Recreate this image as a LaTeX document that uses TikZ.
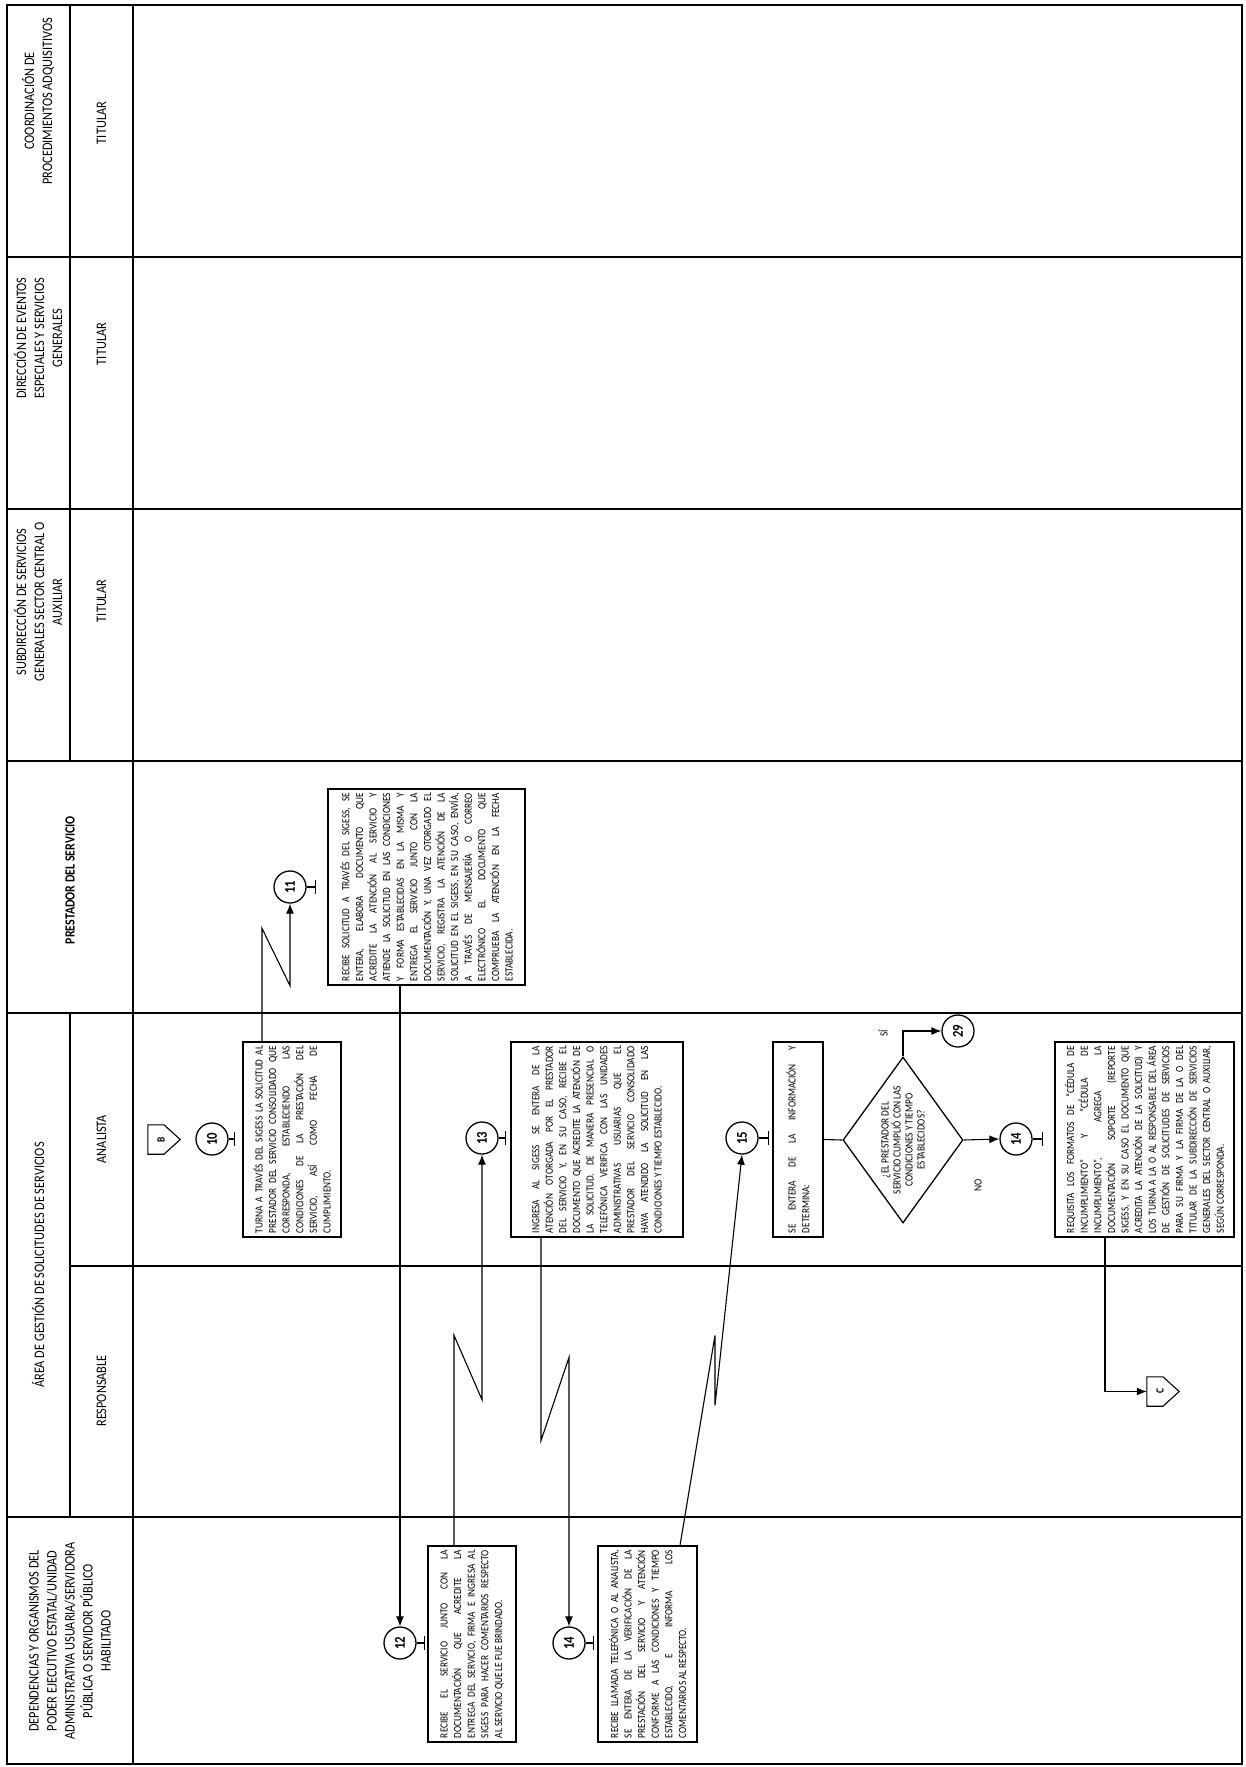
\documentclass[tikz,border=0pt]{standalone}
\usepackage{fontspec}
\setmainfont{Carlito}[FakeStretch=0.85]
\usetikzlibrary{shapes.geometric,calc,arrows.meta}
\begin{document}
\begin{tikzpicture}[x=1pt,y=-1pt,
  lane/.style={line width=1.8pt},
  conn/.style={line width=1.1pt},
  arr/.style={line width=1.1pt,-{Latex[length=10pt,width=8pt]}},
  box/.style={draw,line width=1.3pt,rotate=90,inner sep=0pt,align=justify,fill=white,
              font=\fontsize{10.9}{13.6}\selectfont},
  num/.style={circle,draw,line width=1.3pt,minimum size=32pt,inner sep=0pt,fill=white,
              font=\fontsize{15}{15}\bfseries\selectfont},
  hdr/.style={rotate=90,align=center,font=\fontsize{14.5}{18}\selectfont},
  lbl/.style={rotate=90,font=\fontsize{11}{11}\selectfont},
  offp/.style={inner sep=0pt,minimum width=32pt,minimum height=29pt}]
\useasboundingbox (0,0) rectangle (1245,1767);
% ---------------- lanes ----------------
\draw[lane] (7,5) rectangle (1242,1764);
\foreach \yy in {257,509,761,1013,1517} \draw[lane] (7,\yy) -- (1242,\yy);
\draw[lane] (70,1266) -- (1242,1266);
\draw[lane] (133,5) -- (133,1764);
\draw[lane] (70,5) -- (70,761);
\draw[lane] (70,1013) -- (70,1517);
% ---------------- headers ----------------
\node[hdr] (hCoord) at (38,101) {COORDINACIÓN DE\\PROCEDIMIENTOS ADQUISITIVOS};
\node[hdr] (tCoord) at (101.5,123) {TITULAR};
\node[hdr] (hDir) at (38,338) {DIRECCIÓN DE EVENTOS\\ESPECIALES Y SERVICIOS\\GENERALES};
\node[hdr] (tDir) at (101.5,344) {TITULAR};
\node[hdr] (hSub) at (38,602) {SUBDIRECCIÓN DE SERVICIOS\\GENERALES SECTOR CENTRAL O\\AUXILIAR};
\node[hdr] (tSub) at (101.5,601) {TITULAR};
\node[hdr,font=\fontsize{14}{18}\bfseries\selectfont] (hPre) at (70,880) {PRESTADOR DEL SERVICIO};
\node[hdr] (hArea) at (38,1265) {ÁREA DE GESTIÓN DE SOLICITUDES DE SERVICIOS};
\node[hdr] (tAna) at (101.5,1139) {ANALISTA};
\node[hdr] (tRes) at (101.5,1391) {RESPONSABLE};
\node[hdr] (hDep) at (70,1641) {DEPENDENCIAS Y ORGANISMOS DEL\\PODER EJECUTIVO ESTATAL/UNIDAD\\ADMINISTRATIVA USUARIA/SERVIDORA\\PÚBLICA O SERVIDOR PÚBLICO\\HABILITADO};
% ---------------- off-page B ----------------
\node[offp] (B) at (164,1139.5) {};
\draw[conn] (B.north west) -- (B.north) -- (B.east) -- (B.south) -- (B.south west) -- cycle;
\node[font=\fontsize{11}{11}\bfseries\selectfont] (Bl) at ([xshift=-3pt]B.center) {\rotatebox{90}{B}};
% ---------------- circles ----------------
\node[num] (c10) at (212,1139) {\rotatebox{90}{10}};
\node[num] (c11) at (290,887) {\rotatebox{90}{11}};
\node[num] (c12) at (400,1643) {\rotatebox{90}{12}};
\node[num] (c13) at (482,1138) {\rotatebox{90}{13}};
\node[num] (c14d) at (569,1643) {\rotatebox{90}{14}};
\node[num] (c15) at (742,1138) {\rotatebox{90}{15}};
\node[num] (c29) at (958,1031) {\rotatebox{90}{29}};
\node[num] (c14b) at (1016,1139) {\rotatebox{90}{14}};
% ticks
\draw[conn] (c10.east) -- ++(6,0) +(0,-7) -- +(0,7);
\draw[conn] (c11.east) -- ++(9,0) +(0,-7) -- +(0,7);
\draw[conn] (c12.east) -- ++(8,0) +(0,-7) -- +(0,7);
\draw[conn] (c13.east) -- ++(7,0) +(0,-7) -- +(0,7);
\draw[conn] (c14d.east) -- ++(8,0) +(0,-7) -- +(0,7);
\draw[conn] (c15.east) -- ++(10,0) +(0,-7) -- +(0,7);
\draw[conn] (c14b.east) -- ++(10,0) +(0,-7) -- +(0,7);
% ---------------- boxes ----------------
\node[box,minimum width=195pt,minimum height=98pt,text width=187pt] (b10) at (292,1139.5)
 {TURNA A TRAVÉS DEL SIGESS LA SOLICITUD AL\linebreak PRESTADOR DEL SERVICIO CONSOLIDADO QUE\linebreak CORRESPONDA, ESTABLECIENDO LAS\linebreak CONDICIONES DE LA PRESTACIÓN DEL\linebreak SERVICIO, ASÍ COMO FECHA DE\linebreak CUMPLIMIENTO.};
\node[box,minimum width=196pt,minimum height=197pt,text width=188pt] (b11) at (426.5,887)
 {RECIBE SOLICITUD A TRAVÉS DEL SIGESS, SE\linebreak ENTERA, ELABORA DOCUMENTO QUE\linebreak ACREDITE LA ATENCIÓN AL SERVICIO Y\linebreak ATIENDE LA SOLICITUD EN LAS CONDICIONES\linebreak Y FORMA ESTABLECIDAS EN LA MISMA Y\linebreak ENTREGA EL SERVICIO JUNTO CON LA\linebreak DOCUMENTACIÓN Y, UNA VEZ OTORGADO EL\linebreak SERVICIO, REGISTRA LA ATENCIÓN DE LA\linebreak SOLICITUD EN EL SIGESS, EN SU CASO, ENVÍA,\linebreak A TRAVÉS DE MENSAJERÍA O CORREO\linebreak ELECTRÓNICO EL DOCUMENTO QUE\linebreak COMPRUEBA LA ATENCIÓN EN LA FECHA\linebreak ESTABLECIDA.};
\node[box,minimum width=196pt,minimum height=88pt,text width=188pt] (b12) at (472,1644)
 {RECIBE EL SERVICIO JUNTO CON LA\linebreak DOCUMENTACIÓN QUE ACREDITE LA\linebreak ENTREGA DEL SERVICIO, FIRMA E INGRESA AL\linebreak SIGESS PARA HACER COMENTARIOS RESPECTO\linebreak AL SERVICIO QUE LE FUE BRINDADO.};
\node[box,minimum width=195pt,minimum height=172pt,text width=187pt] (b13) at (597,1139.5)
 {INGRESA AL SIGESS SE ENTERA DE LA\linebreak ATENCIÓN OTORGADA POR EL PRESTADOR\linebreak DEL SERVICIO Y, EN SU CASO, RECIBE EL\linebreak DOCUMENTO QUE ACREDITE LA ATENCIÓN DE\linebreak LA SOLICITUD. DE MANERA PRESENCIAL O\linebreak TELEFÓNICA VERIFICA CON LAS UNIDADES\linebreak ADMINISTRATIVAS USUARIAS QUE EL\linebreak PRESTADOR DEL SERVICIO CONSOLIDADO\linebreak HAYA ATENDIDO LA SOLICITUD EN LAS\linebreak CONDICIONES Y TIEMPO ESTABLECIDO.};
\node[box,minimum width=196pt,minimum height=99pt,text width=188pt] (b14d) at (647.5,1644)
 {RECIBE LLAMADA TELEFÓNICA O AL ANALISTA,\linebreak SE ENTERA DE LA VERIFICACIÓN DE LA\linebreak PRESTACIÓN DEL SERVICIO Y ATENCIÓN\linebreak CONFORME A LAS CONDICIONES Y TIEMPO\linebreak ESTABLECIDO, E INFORMA LOS\linebreak COMENTARIOS AL RESPECTO.};
\node[box,minimum width=195pt,minimum height=50pt,text width=187pt] (b15) at (798,1139.5)
 {SE ENTERA DE LA INFORMACIÓN Y\linebreak DETERMINA:};
\node[box,minimum width=195pt,minimum height=179pt,text width=187pt] (b14b) at (1144.5,1139.5)
 {REQUISITA LOS FORMATOS DE “CÉDULA DE\linebreak INCUMPLIMIENTO” Y “CÉDULA DE\linebreak INCUMPLIMIENTO”, AGREGA LA\linebreak DOCUMENTACIÓN SOPORTE (REPORTE\linebreak SIGESS, Y EN SU CASO EL DOCUMENTO QUE\linebreak ACREDITA LA ATENCIÓN DE LA SOLICITUD) Y\linebreak LOS TURNA A LA O AL RESPONSABLE DEL ÁREA\linebreak DE GESTIÓN DE SOLICITUDES DE SERVICIOS\linebreak PARA SU FIRMA Y LA FIRMA DE LA O DEL\linebreak TITULAR DE LA SUBDIRECCIÓN DE SERVICIOS\linebreak GENERALES DEL SECTOR CENTRAL O AUXILIAR,\linebreak SEGÚN CORRESPONDA.};
% ---------------- decision ----------------
\node[diamond,draw,line width=1.3pt,minimum width=120pt,minimum height=166pt,inner sep=0pt] (dia) at (903,1140) {};
\node[rotate=90,align=center,font=\fontsize{11}{12}\selectfont] (dtxt) at (dia.center) {¿EL PRESTADOR DEL\\SERVICIO CUMPLIÓ CON LAS\\CONDICIONES Y TIEMPO\\ESTABLECIDOS?};
\node[lbl] (lsi) at (883,1033) {SÍ};
\node[lbl] (lno) at (978,1185) {NO};
% ---------------- off-page C ----------------
\node[offp] (C) at (1163,1391.5) {};
\draw[conn] (C.north west) -- (C.north) -- (C.east) -- (C.south) -- (C.south west) -- cycle;
\node[font=\fontsize{11}{11}\bfseries\selectfont] (Cl) at ([xshift=-3pt]C.center) {\rotatebox{90}{C}};
% ---------------- connectors ----------------
\draw[arr] ([xshift=-30pt]b10.east) -- ++(0,-113) -- ($(c11.south)+(0,82)$) -- (c11.south);
\draw[arr] ([xshift=-26.5pt]b11.west) -- (c12.north);
\draw[arr] ([xshift=-18pt]b12.east) -- ++(0,-210) -- ($(c13.south)+(0,245)$) -- (c13.south);
\draw[arr] ([xshift=-56pt]b13.west) -- ++(0,203) -- ($(c14d.north)+(0,-269)$) -- (c14d.north);
\draw[arr] ([xshift=32.5pt]b14d.east) -- ++(35,-210) -- ++(0,70) -- (c15.south);
\draw[conn] (b15.south) -- (dia.west);
\draw[arr] (dia.north) |- (c29.west);
\draw[arr] (dia.east) -- (c14b.west);
\draw[arr] ([xshift=-39.5pt]b14b.west) |- (C.west);
\end{tikzpicture}
\end{document}
